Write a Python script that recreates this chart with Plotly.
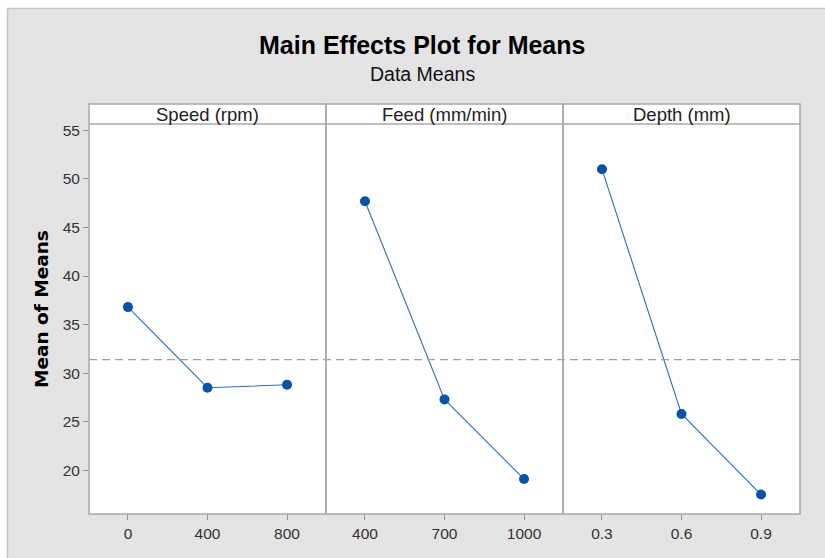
import plotly.graph_objects as go

# factor levels and mean responses
factors = ["Speed (rpm)", "Feed (mm/min)", "Depth (mm)"]
speed_levels = ["0", "400", "800"]
speed_means = [36.8, 28.5, 28.8]
feed_levels = ["400", "700", "1000"]
feed_means = [47.7, 27.3, 19.1]
depth_levels = ["0.3", "0.6", "0.9"]
depth_means = [51.0, 25.8, 17.5]
y_ticks = [20, 25, 30, 35, 40, 45, 50, 55]

W, H = 825, 558
ML, MR, MT, MB = 89, 25, 124, 44
plot_w = W - ML - MR
plot_h = H - MT - MB
strip = 20 / plot_h

all_means = speed_means + feed_means + depth_means
grand_mean = sum(all_means) / len(all_means)

fig = go.Figure()
panels = [(speed_levels, speed_means), (feed_levels, feed_means), (depth_levels, depth_means)]
for i, (levels, means) in enumerate(panels):
    ax = "x" if i == 0 else f"x{i + 1}"
    fig.add_trace(go.Scatter(
        x=levels, y=means, xaxis=ax, yaxis="y", mode="lines+markers",
        line=dict(color="#2a6fbf", width=1.1),
        marker=dict(color="#0a52a5", size=10),
        showlegend=False, hoverinfo="x+y",
    ))

axis_font = dict(family="Liberation Sans, Arial", size=15.5, color="#333333")
for i in range(3):
    key = "xaxis" if i == 0 else f"xaxis{i + 1}"
    fig.layout[key] = dict(
        domain=[i / 3, (i + 1) / 3], anchor="y", type="category",
        range=[-0.49, 2.49], showgrid=False, zeroline=False, showline=False,
        ticks="outside", ticklen=5, tickcolor="#909090", tickfont=axis_font,
    )

fig.update_layout(
    yaxis=dict(range=[15.5, 55.65], tickvals=y_ticks, showgrid=False, zeroline=False,
               showline=False, ticks="outside", ticklen=5, tickcolor="#909090",
               tickfont=axis_font, anchor="x"),
    width=W, height=H,
    margin=dict(l=ML, r=MR, t=MT, b=MB),
    paper_bgcolor="#e4e4e4", plot_bgcolor="white",
    font=dict(family="Liberation Sans, Arial"),
)

px_x = lambda p: (p - ML) / plot_w
px_y = lambda p: (H - MB - p) / plot_h

shapes = [
    # thin white margin at the top and left of the screenshot
    dict(type="rect", xref="paper", yref="paper", layer="below",
         x0=px_x(-2), x1=px_x(W + 2), y0=px_y(8), y1=px_y(-2),
         fillcolor="white", line=dict(width=0)),
    dict(type="rect", xref="paper", yref="paper", layer="below",
         x0=px_x(-2), x1=px_x(7), y0=px_y(H + 2), y1=px_y(-2),
         fillcolor="white", line=dict(width=0)),
    dict(type="line", xref="paper", yref="paper", layer="below",
         x0=px_x(7.5), x1=px_x(W + 2), y0=px_y(8.5), y1=px_y(8.5),
         line=dict(color="#c4c4c4", width=1.5)),
    dict(type="line", xref="paper", yref="paper", layer="below",
         x0=px_x(7.5), x1=px_x(7.5), y0=px_y(8.5), y1=px_y(H + 2),
         line=dict(color="#c4c4c4", width=1.5)),
    # white plot area including the strip
    dict(type="rect", xref="paper", yref="paper", layer="below",
         x0=0, x1=1, y0=0, y1=1 + strip, fillcolor="white", line=dict(width=0)),
    # grand mean reference line
    dict(type="line", xref="paper", yref="y", x0=0, x1=1, y0=grand_mean, y1=grand_mean,
         line=dict(color="#a0a0a0", width=1.3, dash="8px,5px")),
    # strip separator
    dict(type="line", xref="paper", yref="paper", x0=0, x1=1, y0=1, y1=1,
         line=dict(color="#a8a8a8", width=1.5)),
]
for i in range(3):
    shapes.append(dict(type="rect", xref="paper", yref="paper",
                       x0=i / 3, x1=(i + 1) / 3, y0=0, y1=1 + strip,
                       line=dict(color="#a8a8a8", width=1.5)))

annotations = [
    dict(text="<b>Main Effects Plot for Means</b>", xref="paper", yref="paper",
         x=px_x(422), y=px_y(45), showarrow=False,
         font=dict(size=25, color="black"), xanchor="center", yanchor="middle"),
    dict(text="Data Means", xref="paper", yref="paper",
         x=px_x(422), y=px_y(74), showarrow=False,
         font=dict(size=19.5, color="#111111"), xanchor="center", yanchor="middle"),
    dict(text="<b>Mean of Means</b>", xref="paper", yref="paper", textangle=-90,
         x=px_x(41), y=(1 + strip) / 2, showarrow=False,
         font=dict(size=18.5, color="black", family="DejaVu Sans, Arial"),
         xanchor="center", yanchor="middle"),
]
for i, name in enumerate(factors):
    annotations.append(dict(text=name, xref="paper", yref="paper",
                            x=(i + 0.5) / 3, y=1 + strip / 2, showarrow=False,
                            font=dict(size=18.5, color="#222222"),
                            xanchor="center", yanchor="middle"))

fig.update_layout(shapes=shapes, annotations=annotations)
fig.write_html("out.html", config={"displayModeBar": False},
               post_script="document.body.style.margin='0';document.body.style.overflow='hidden';")
